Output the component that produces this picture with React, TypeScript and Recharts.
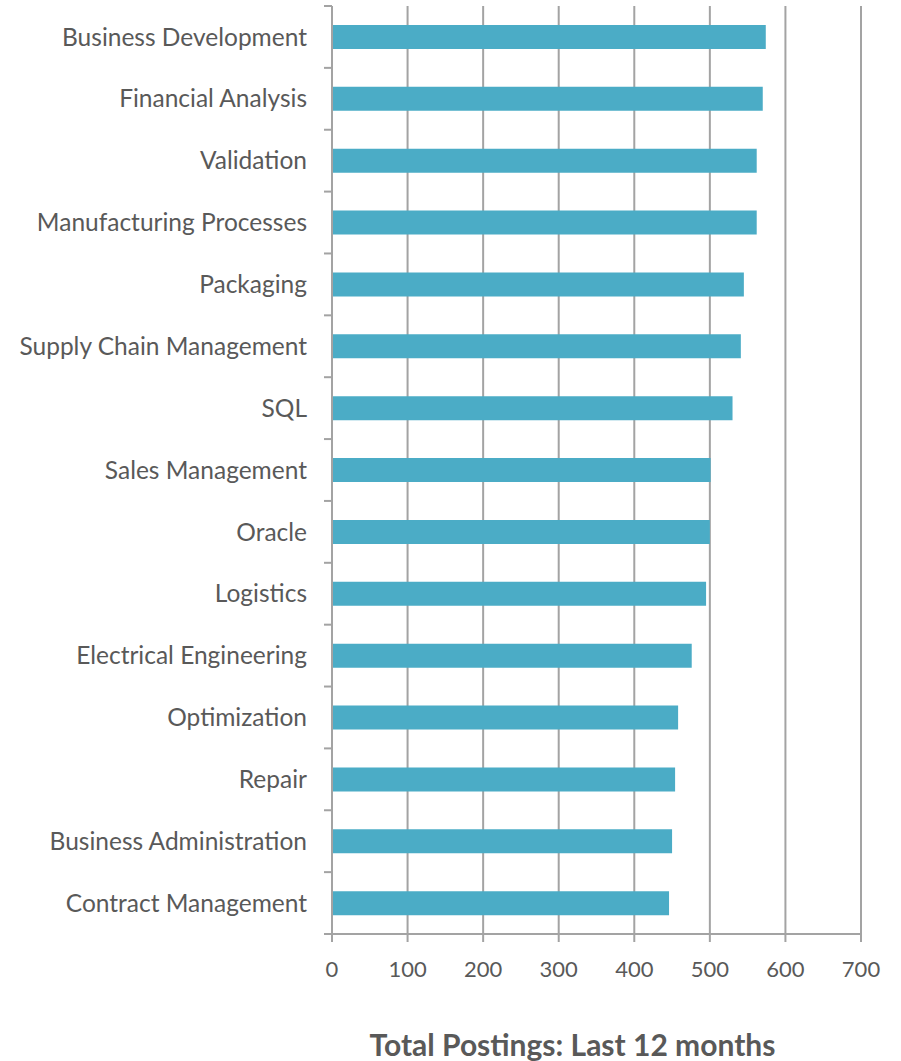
import { Bar, BarChart, CartesianGrid, XAxis, YAxis } from 'recharts';

const skills = [
  'Business Development',
  'Financial Analysis',
  'Validation',
  'Manufacturing Processes',
  'Packaging',
  'Supply Chain Management',
  'SQL',
  'Sales Management',
  'Oracle',
  'Logistics',
  'Electrical Engineering',
  'Optimization',
  'Repair',
  'Business Administration',
  'Contract Management',
];
const postings = [574, 570, 562, 562, 545, 541, 530, 501, 500, 495, 476, 458, 454, 450, 446];
const xTicks = [0, 100, 200, 300, 400, 500, 600, 700];
const title = 'Total Postings: Last 12 months';

const data = skills.map((skill, i) => ({ skill, postings: postings[i] }));

const W = 901;
const H = 1061;
const margin = { top: 6, right: 40, bottom: 67, left: 0 };
const yAxisWidth = 332;
const xAxisHeight = 60;
const band = (H - margin.top - margin.bottom - xAxisHeight) / skills.length;

const lineGrey = '#a3a3a3';
const textGrey = '#595959';
const font = 'Lato, Carlito, sans-serif';

// label at the band centre, tick marks on the band edges like excel does
function SkillTick(props: any) {
  const { x, y, payload, index, visibleTicksCount } = props;
  const x0 = margin.left + yAxisWidth;
  const last = index === visibleTicksCount - 1;
  return (
    <g>
      <line x1={x0 - 8} x2={x0} y1={y - band / 2} y2={y - band / 2} stroke={lineGrey} strokeWidth={2} />
      {last && <line x1={x0 - 8} x2={x0} y1={y + band / 2} y2={y + band / 2} stroke={lineGrey} strokeWidth={2} />}
      <text x={x} y={y} dy="0.355em" textAnchor="end" fill={textGrey} fontSize={24.5} fontFamily={font}>
        {payload.value}
      </text>
    </g>
  );
}

export default function App() {
  return (
    <div style={{ position: 'absolute', left: 0, top: 0, width: W, height: H, background: '#fff' }}>
      <BarChart width={W} height={H} data={data} layout="vertical" margin={margin}>
        <CartesianGrid horizontal={false} stroke={lineGrey} strokeWidth={2} />
        <XAxis
          type="number"
          domain={[0, 700]}
          ticks={xTicks}
          height={xAxisHeight}
          tickSize={8}
          tickMargin={19}
          axisLine={{ stroke: lineGrey, strokeWidth: 2 }}
          tickLine={{ stroke: lineGrey, strokeWidth: 2 }}
          tick={{ fill: textGrey, fontSize: 22, fontFamily: font }}
          label={{
            value: title,
            position: 'bottom',
            offset: 41,
            dx: -24,
            fill: textGrey,
            fontSize: 30,
            fontWeight: 'bold',
            fontFamily: font,
          }}
        />
        <YAxis
          type="category"
          dataKey="skill"
          width={yAxisWidth}
          axisLine={{ stroke: lineGrey, strokeWidth: 2 }}
          tickLine={false}
          tickSize={0}
          tickMargin={25}
          interval={0}
          tick={<SkillTick />}
        />
        <Bar dataKey="postings" fill="#4bacc6" barSize={24} isAnimationActive={false} />
      </BarChart>
    </div>
  );
}
